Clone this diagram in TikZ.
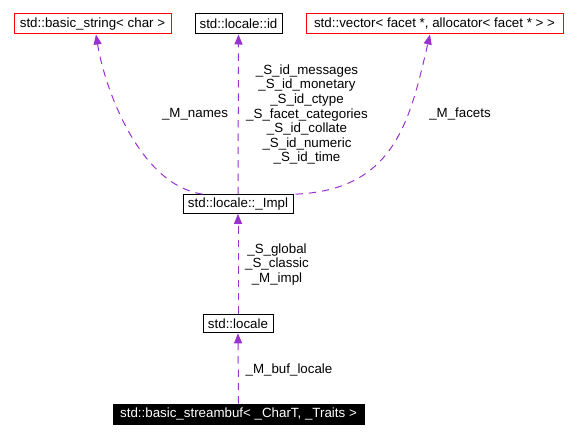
\documentclass[tikz,border=0pt]{standalone}
\usepackage{fontspec}
\setmainfont{Liberation Sans}
\usetikzlibrary{arrows.meta,calc}
\definecolor{edgepurple}{HTML}{9A32CD}
\tikzset{
  box/.style={draw=black, line width=0.75pt, minimum height=15pt, inner sep=0pt, font=\fontsize{10}{12}\selectfont},
  redbox/.style={box, draw=red},
  darkbox/.style={box, fill=black, text=white},
  link/.style={edgepurple, line width=0.75pt, dash pattern=on 5.5pt off 4.5pt, -{Triangle[length=7.5pt,width=6pt]}},
  lbl/.style={font=\fontsize{10}{10.9}\selectfont, align=center, inner sep=0pt}
}
\begin{document}
\begin{tikzpicture}[x=0.75pt,y=-0.75pt]
\useasboundingbox (0,0) rectangle (577,438);
\node[redbox, minimum width=117.75pt] (bs) at (92.5,24) {std::basic\_string< char >};
\node[box, minimum width=65.25pt] (id) at (238.5,24) {std::locale::id};
\node[redbox, minimum width=192.75pt] (vec) at (434.5,24) {std::vector< facet *, allocator< facet * > >};
\node[box, minimum width=82.5pt, minimum height=14pt] (impl) at (238,204) {std::locale::\_Impl};
\node[box, minimum width=52.5pt, minimum height=14pt] (loc) at (238,323.5) {std::locale};
\node[darkbox, minimum width=188.25pt] (sb) at (238.5,414) {std::basic\_streambuf< \_CharT, \_Traits >};

\draw[link] ($(impl.north west)+(20,0)$) .. controls (140,185) and (105,90) .. ($(bs.south)+(3.5,0)$);
\draw[link] (impl.north) -- (id.south);
\draw[link] ($(impl.north east)+(2,0)$) .. controls (395,190) and (410,120) .. ($(vec.south)+(-4.5,0)$);
\draw[link] (loc.north) -- (impl.south);
\draw[link] (sb.north) -- (loc.south);

\node[lbl] (lnames) at (195,114) {\_M\_names};
\node[lbl] (lids) at (307,114.5) {\_S\_id\_messages\\\_S\_id\_monetary\\\_S\_id\_ctype\\\_S\_facet\_categories\\\_S\_id\_collate\\\_S\_id\_numeric\\\_S\_id\_time};
\node[lbl] (lfacets) at (460,114) {\_M\_facets};
\node[lbl] (limpl) at (277,264.5) {\_S\_global\\\_S\_classic\\\_M\_impl};
\node[lbl] (lbuf) at (289,370) {\_M\_buf\_locale};
\end{tikzpicture}
\end{document}
